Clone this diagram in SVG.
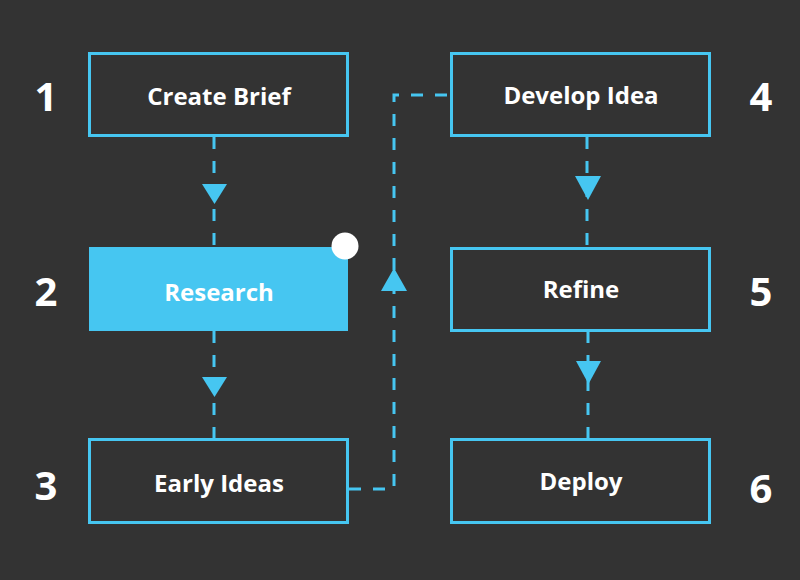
<svg xmlns="http://www.w3.org/2000/svg" width="800" height="580" viewBox="0 0 800 580">
<style>
.box{fill:none;stroke:#46c6f1;stroke-width:3}
.lbl{font-family:"Open Sans","Noto Sans",sans-serif;font-weight:700;font-size:24px;fill:#ffffff;text-anchor:middle;dominant-baseline:central}
.num{font-family:"Open Sans","Noto Sans",sans-serif;font-weight:700;font-size:40px;fill:#ffffff;text-anchor:middle;dominant-baseline:central}
.con{fill:none;stroke:#46c6f1;stroke-width:3;stroke-dasharray:12 12}
.arr{fill:#46c6f1}
</style>
<rect width="800" height="580" fill="#333333"/>
<g id="connectors">
<line class="con" x1="214" y1="137" x2="214" y2="247"/>
<polygon class="arr" points="202,184 227,184 214.5,204"/>
<line class="con" x1="214" y1="331" x2="214" y2="438"/>
<polygon class="arr" points="202,377 227,377 214.5,397"/>
<polyline class="con" points="349,489 394,489 394,95 450,95"/>
<polygon class="arr" points="381,291 407,291 394,268"/>
<line class="con" x1="587" y1="137" x2="587" y2="247"/>
<polygon class="arr" points="575,176 601,176 588,200"/>
<line class="con" x1="588" y1="331" x2="588" y2="438"/>
<polygon class="arr" points="576,361 601,361 588.5,384"/>
</g>
<g id="n1"><rect class="box" x="89.5" y="53.5" width="258" height="82"/><text class="lbl" x="219" y="95">Create Brief</text><text class="num" x="46" y="95">1</text></g>
<g id="n2"><rect x="89" y="247" width="259" height="84" fill="#46c6f1"/><circle cx="345" cy="246" r="13.5" fill="#ffffff"/><text class="lbl" x="219" y="291">Research</text><text class="num" x="46" y="290">2</text></g>
<g id="n3"><rect class="box" x="89.5" y="439.5" width="258" height="83"/><text class="lbl" x="219" y="482">Early Ideas</text><text class="num" x="46" y="484">3</text></g>
<g id="n4"><rect class="box" x="451.5" y="53.5" width="258" height="82"/><text class="lbl" x="581" y="94">Develop Idea</text><text class="num" x="761" y="95">4</text></g>
<g id="n5"><rect class="box" x="451.5" y="248.5" width="258" height="82"/><text class="lbl" x="581" y="288">Refine</text><text class="num" x="761" y="290">5</text></g>
<g id="n6"><rect class="box" x="451.5" y="439.5" width="258" height="83"/><text class="lbl" x="581" y="480">Deploy</text><text class="num" x="761" y="487">6</text></g>
</svg>
